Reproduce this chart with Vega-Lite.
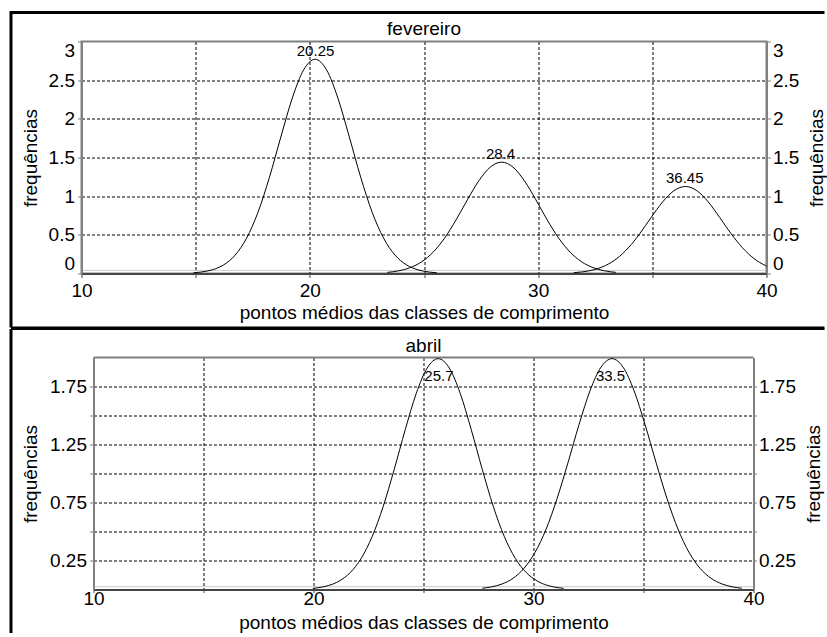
{
  "$schema": "https://vega.github.io/schema/vega-lite/v6.json",
  "background": "white",
  "padding": {"left": 7.5, "top": 7.5, "right": 0, "bottom": 0},
  "columns": 1,
  "bounds": "full",
  "spacing": -4,
  "datasets": {
    "one": [{}],
    "fev": [
      {"c":"a","x":14.9,"y":0.009},{"c":"a","x":15.23,"y":0.0185},{"c":"a","x":15.73,"y":0.048},{"c":"a","x":16.23,"y":0.112},{"c":"a","x":16.73,"y":0.238},{"c":"a","x":17.23,"y":0.457},{"c":"a","x":17.73,"y":0.792},{"c":"a","x":18.23,"y":1.243},{"c":"a","x":18.73,"y":1.765},{"c":"a","x":19.23,"y":2.267},{"c":"a","x":19.73,"y":2.634},{"c":"a","x":20.23,"y":2.77},{"c":"a","x":20.73,"y":2.634},{"c":"a","x":21.23,"y":2.267},{"c":"a","x":21.73,"y":1.765},{"c":"a","x":22.23,"y":1.243},{"c":"a","x":22.73,"y":0.792},{"c":"a","x":23.23,"y":0.457},{"c":"a","x":23.73,"y":0.238},{"c":"a","x":24.23,"y":0.112},{"c":"a","x":24.73,"y":0.048},{"c":"a","x":25.23,"y":0.0185},{"c":"a","x":25.56,"y":0.009},
      {"c":"b","x":23.4,"y":0.0146},{"c":"b","x":23.9,"y":0.035},{"c":"b","x":24.4,"y":0.076},{"c":"b","x":24.9,"y":0.152},{"c":"b","x":25.4,"y":0.276},{"c":"b","x":25.9,"y":0.457},{"c":"b","x":26.4,"y":0.691},{"c":"b","x":26.9,"y":0.953},{"c":"b","x":27.4,"y":1.198},{"c":"b","x":27.9,"y":1.375},{"c":"b","x":28.4,"y":1.44},{"c":"b","x":28.9,"y":1.375},{"c":"b","x":29.4,"y":1.198},{"c":"b","x":29.9,"y":0.953},{"c":"b","x":30.4,"y":0.691},{"c":"b","x":30.9,"y":0.457},{"c":"b","x":31.4,"y":0.276},{"c":"b","x":31.9,"y":0.152},{"c":"b","x":32.4,"y":0.076},{"c":"b","x":32.9,"y":0.035},{"c":"b","x":33.4,"y":0.0146},
      {"c":"c","x":31.56,"y":0.0105},{"c":"c","x":31.95,"y":0.0216},{"c":"c","x":32.45,"y":0.049},{"c":"c","x":32.95,"y":0.103},{"c":"c","x":33.45,"y":0.194},{"c":"c","x":33.95,"y":0.332},{"c":"c","x":34.45,"y":0.515},{"c":"c","x":34.95,"y":0.725},{"c":"c","x":35.45,"y":0.925},{"c":"c","x":35.95,"y":1.071},{"c":"c","x":36.45,"y":1.125},{"c":"c","x":36.95,"y":1.071},{"c":"c","x":37.45,"y":0.925},{"c":"c","x":37.95,"y":0.725},{"c":"c","x":38.45,"y":0.515},{"c":"c","x":38.95,"y":0.332},{"c":"c","x":39.45,"y":0.194},{"c":"c","x":39.95,"y":0.103},{"c":"c","x":40,"y":0.096}
    ],
    "abr": [
      {"c":"d","x":19.97,"y":0.0099},{"c":"d","x":20.17,"y":0.0143},{"c":"d","x":20.67,"y":0.0336},{"c":"d","x":21.17,"y":0.073},{"c":"d","x":21.67,"y":0.146},{"c":"d","x":22.17,"y":0.269},{"c":"d","x":22.67,"y":0.458},{"c":"d","x":23.17,"y":0.717},{"c":"d","x":23.67,"y":1.036},{"c":"d","x":24.17,"y":1.378},{"c":"d","x":24.67,"y":1.69},{"c":"d","x":25.17,"y":1.91},{"c":"d","x":25.67,"y":1.99},{"c":"d","x":26.17,"y":1.91},{"c":"d","x":26.67,"y":1.69},{"c":"d","x":27.17,"y":1.378},{"c":"d","x":27.67,"y":1.036},{"c":"d","x":28.17,"y":0.717},{"c":"d","x":28.67,"y":0.458},{"c":"d","x":29.17,"y":0.269},{"c":"d","x":29.67,"y":0.146},{"c":"d","x":30.17,"y":0.073},{"c":"d","x":30.67,"y":0.0336},{"c":"d","x":31.17,"y":0.0143},{"c":"d","x":31.37,"y":0.0099},
      {"c":"e","x":27.67,"y":0.011},{"c":"e","x":28.07,"y":0.0218},{"c":"e","x":28.57,"y":0.0476},{"c":"e","x":29.07,"y":0.0968},{"c":"e","x":29.57,"y":0.183},{"c":"e","x":30.07,"y":0.32},{"c":"e","x":30.57,"y":0.519},{"c":"e","x":31.07,"y":0.783},{"c":"e","x":31.57,"y":1.095},{"c":"e","x":32.07,"y":1.422},{"c":"e","x":32.57,"y":1.714},{"c":"e","x":33.07,"y":1.917},{"c":"e","x":33.57,"y":1.99},{"c":"e","x":34.07,"y":1.917},{"c":"e","x":34.57,"y":1.714},{"c":"e","x":35.07,"y":1.422},{"c":"e","x":35.57,"y":1.095},{"c":"e","x":36.07,"y":0.783},{"c":"e","x":36.57,"y":0.519},{"c":"e","x":37.07,"y":0.32},{"c":"e","x":37.57,"y":0.183},{"c":"e","x":38.07,"y":0.0968},{"c":"e","x":38.57,"y":0.0476},{"c":"e","x":39.07,"y":0.0218},{"c":"e","x":39.47,"y":0.011}
    ],
    "fevLab": [
      {"x":20.25,"y":2.77,"label":"20.25"},
      {"x":28.35,"y":1.44,"label":"28.4"},
      {"x":36.42,"y":1.125,"label":"36.45"}
    ],
    "abrLab": [
      {"x":25.7,"y":1.99,"label":"25.7"},
      {"x":33.5,"y":1.99,"label":"33.5"}
    ]
  },
  "concat": [
    {
      "width": 685,
      "height": 232,
      "resolve": {"scale": {"y": "shared", "x": "shared"}, "axis": {"y": "independent", "x": "independent"}},
      "layer": [
        {
          "data": {"name": "one"},
          "mark": {"type": "rule", "color": "#999999", "strokeWidth": 1, "strokeDash": [1, 1]},
          "encoding": {
            "x": {"datum": 10, "type": "quantitative", "scale": {"domain": [10, 40], "nice": false, "zero": false}, "axis": null},
            "x2": {"datum": 40},
            "y": {"datum": 0.04, "type": "quantitative", "scale": {"domain": [0, 3], "nice": false}, "axis": null}
          }
        },
        {
          "data": {"name": "fev"},
          "mark": {"type": "line", "color": "black", "strokeWidth": 1, "interpolate": "monotone"},
          "encoding": {
            "x": {"field": "x", "type": "quantitative", "scale": {"domain": [10, 40], "nice": false, "zero": false},
              "axis": {"orient": "bottom", "values": [10, 15, 20, 25, 30, 35, 40], "format": "d", "labelExpr": "datum.value % 10 === 0 ? datum.label : ''", "labelOverlap": false, "labelFlush": false,
                "grid": true, "gridOpacity": {"condition": {"test": "datum.value == 10 || datum.value == 40", "value": 0}, "value": 1},
                "title": "pontos médios das classes de comprimento", "domainColor": "#444444", "domainWidth": 2, "tickColor": "#444444", "tickSize": 4, "labelPadding": 3.5, "titlePadding": 3.5}},
            "y": {"field": "y", "type": "quantitative", "scale": {"domain": [0, 3], "nice": false},
              "axis": {"orient": "left", "values": [0, 0.5, 1, 1.5, 2, 2.5, 3], "format": "~g", "labelFlush": true, "labelOverlap": false,
                "grid": true, "gridOpacity": {"condition": {"test": "datum.value == 0 || datum.value == 3", "value": 0}, "value": 1},
                "title": "frequências", "tickSize": 4, "labelPadding": 3, "titlePadding": 7.5}},
            "detail": {"field": "c"}
          }
        },
        {
          "data": {"name": "fevLab"},
          "mark": {"type": "text", "fontSize": 15, "font": "Liberation Sans", "color": "black", "baseline": "alphabetic", "align": "center", "dy": -3.5},
          "encoding": {
            "x": {"field": "x", "type": "quantitative", "scale": {"domain": [10, 40], "nice": false, "zero": false}, "axis": null},
            "y": {"field": "y", "type": "quantitative", "scale": {"domain": [0, 3], "nice": false},
              "axis": {"orient": "right", "values": [0, 0.5, 1, 1.5, 2, 2.5, 3], "format": "~g", "labelFlush": true, "labelOverlap": false, "grid": false,
                "title": "frequências", "titleAngle": 270, "titleBaseline": "top", "tickSize": 4, "labelPadding": 2, "titlePadding": 8.5}},
            "text": {"field": "label"}
          }
        },
        {
          "data": {"name": "one"},
          "mark": {"type": "text", "fontSize": 19, "font": "Liberation Sans", "color": "black", "baseline": "alphabetic", "align": "center"},
          "encoding": {
            "x": {"datum": 25, "type": "quantitative", "scale": {"domain": [10, 40], "nice": false, "zero": false}, "axis": null},
            "y": {"datum": 3.0776, "type": "quantitative", "scale": {"domain": [0, 3], "nice": false}, "axis": null},
            "text": {"value": "fevereiro"}
          }
        },
        {
          "data": {"name": "one"},
          "mark": {"type": "rule", "color": "black", "strokeWidth": 3, "strokeCap": "butt"},
          "encoding": {
            "x": {"datum": 6.912, "type": "quantitative", "scale": {"domain": [10, 40], "nice": false, "zero": false}, "axis": null},
            "y": {"datum": 3.3944, "type": "quantitative", "scale": {"domain": [0, 3], "nice": false}, "axis": null},
            "y2": {"datum": -0.6983}
          }
        },
        {
          "data": {"name": "one"},
          "mark": {"type": "rule", "color": "black", "strokeWidth": 3, "strokeCap": "butt"},
          "encoding": {
            "x": {"datum": 6.912, "type": "quantitative", "scale": {"domain": [10, 40], "nice": false, "zero": false}, "axis": null},
            "x2": {"datum": 42.54},
            "y": {"datum": 3.375, "type": "quantitative", "scale": {"domain": [0, 3], "nice": false}, "axis": null}
          }
        },
        {
          "data": {"name": "one"},
          "mark": {"type": "rule", "color": "black", "strokeWidth": 2, "strokeCap": "butt"},
          "encoding": {
            "x": {"datum": 6.912, "type": "quantitative", "scale": {"domain": [10, 40], "nice": false, "zero": false}, "axis": null},
            "x2": {"datum": 42.54},
            "y": {"datum": -0.6983, "type": "quantitative", "scale": {"domain": [0, 3], "nice": false}, "axis": null}
          }
        }
      ]
    },
    {
      "width": 672,
      "height": 232,
      "view": {"stroke": null},
      "resolve": {"scale": {"y": "shared", "x": "shared"}, "axis": {"y": "independent", "x": "independent"}},
      "layer": [
        {
          "data": {"name": "one"},
          "mark": {"type": "rule", "color": "#999999", "strokeWidth": 1, "strokeDash": [1, 1]},
          "encoding": {
            "x": {"datum": 10, "type": "quantitative", "scale": {"domain": [10, 40], "range": [12, 672], "nice": false, "zero": false}, "axis": null},
            "x2": {"datum": 40},
            "y": {"datum": 0.024, "type": "quantitative", "scale": {"domain": [0, 2], "nice": false}, "axis": null}
          }
        },
        {
          "data": {"name": "one"},
          "mark": {"type": "rule", "color": "#808080", "strokeWidth": 2},
          "encoding": {
            "x": {"datum": 10, "type": "quantitative", "scale": {"domain": [10, 40], "range": [12, 672], "nice": false, "zero": false}, "axis": null},
            "x2": {"datum": 40},
            "y": {"datum": 2, "type": "quantitative", "scale": {"domain": [0, 2], "nice": false}, "axis": null}
          }
        },
        {
          "data": {"name": "abr"},
          "mark": {"type": "line", "color": "black", "strokeWidth": 1, "interpolate": "monotone"},
          "encoding": {
            "x": {"field": "x", "type": "quantitative", "scale": {"domain": [10, 40], "range": [12, 672], "nice": false, "zero": false},
              "axis": {"orient": "bottom", "values": [10, 15, 20, 25, 30, 35, 40], "format": "d", "labelExpr": "datum.value % 10 === 0 ? datum.label : ''", "labelOverlap": false, "labelFlush": false,
                "grid": true, "gridOpacity": {"condition": {"test": "datum.value == 10 || datum.value == 40", "value": 0}, "value": 1},
                "title": "pontos médios das classes de comprimento", "domainColor": "#444444", "domainWidth": 2, "tickColor": "#444444", "tickSize": 3, "labelPadding": -3.5, "titlePadding": 5}},
            "y": {"field": "y", "type": "quantitative", "scale": {"domain": [0, 2], "nice": false},
              "axis": {"orient": "left", "offset": -12, "values": [0.25, 0.5, 0.75, 1, 1.25, 1.5, 1.75], "labelExpr": "(datum.value * 4) % 2 == 1 ? format(datum.value, '.2f') : ''", "labelFlush": false, "labelOverlap": false,
                "grid": true, "title": "frequências", "tickSize": 4, "labelPadding": 3, "titlePadding": 9}},
            "detail": {"field": "c"}
          }
        },
        {
          "data": {"name": "abrLab"},
          "mark": {"type": "text", "fontSize": 15, "font": "Liberation Sans", "color": "black", "baseline": "alphabetic", "align": "center", "dy": 22},
          "encoding": {
            "x": {"field": "x", "type": "quantitative", "scale": {"domain": [10, 40], "range": [12, 672], "nice": false, "zero": false}, "axis": null},
            "y": {"field": "y", "type": "quantitative", "scale": {"domain": [0, 2], "nice": false},
              "axis": {"orient": "right", "values": [0.25, 0.5, 0.75, 1, 1.25, 1.5, 1.75], "labelExpr": "(datum.value * 4) % 2 == 1 ? format(datum.value, '.2f') : ''", "labelFlush": false, "labelOverlap": false, "grid": false,
                "title": "frequências", "titleAngle": 270, "titleBaseline": "top", "tickSize": 3, "labelPadding": 2, "titlePadding": 9}},
            "text": {"field": "label"}
          }
        },
        {
          "data": {"name": "one"},
          "mark": {"type": "text", "fontSize": 19, "font": "Liberation Sans", "color": "black", "baseline": "alphabetic", "align": "center"},
          "encoding": {
            "x": {"datum": 25, "type": "quantitative", "scale": {"domain": [10, 40], "range": [12, 672], "nice": false, "zero": false}, "axis": null},
            "y": {"datum": 2.0474, "type": "quantitative", "scale": {"domain": [0, 2], "nice": false}, "axis": null},
            "text": {"value": "abril"}
          }
        },
        {
          "data": {"name": "one"},
          "mark": {"type": "rule", "color": "black", "strokeWidth": 3, "strokeCap": "butt"},
          "encoding": {
            "x": {"datum": 6.25, "type": "quantitative", "scale": {"domain": [10, 40], "range": [12, 672], "nice": false, "zero": false}, "axis": null},
            "y": {"datum": 2.2457, "type": "quantitative", "scale": {"domain": [0, 2], "nice": false}, "axis": null},
            "y2": {"datum": -0.375}
          }
        },
        {
          "data": {"name": "one"},
          "mark": {"type": "rule", "color": "black", "strokeWidth": 2, "strokeCap": "butt"},
          "encoding": {
            "x": {"datum": 6.25, "type": "quantitative", "scale": {"domain": [10, 40], "range": [12, 672], "nice": false, "zero": false}, "axis": null},
            "x2": {"datum": 43.227},
            "y": {"datum": 2.2457, "type": "quantitative", "scale": {"domain": [0, 2], "nice": false}, "axis": null}
          }
        }
      ]
    }
  ],
  "config": {
    "font": "Liberation Sans",
    "view": {"stroke": "#808080", "strokeWidth": 2},
    "axis": {
      "labelFont": "Liberation Sans", "titleFont": "Liberation Sans",
      "labelFontSize": 19, "titleFontSize": 19, "titleFontWeight": "normal",
      "labelColor": "black", "titleColor": "black",
      "gridColor": "black", "gridDash": [3, 2], "gridWidth": 1, "gridOpacity": 1,
      "domainColor": "#808080", "domainWidth": 2, "tickColor": "#808080", "tickWidth": 1
    }
  }
}
